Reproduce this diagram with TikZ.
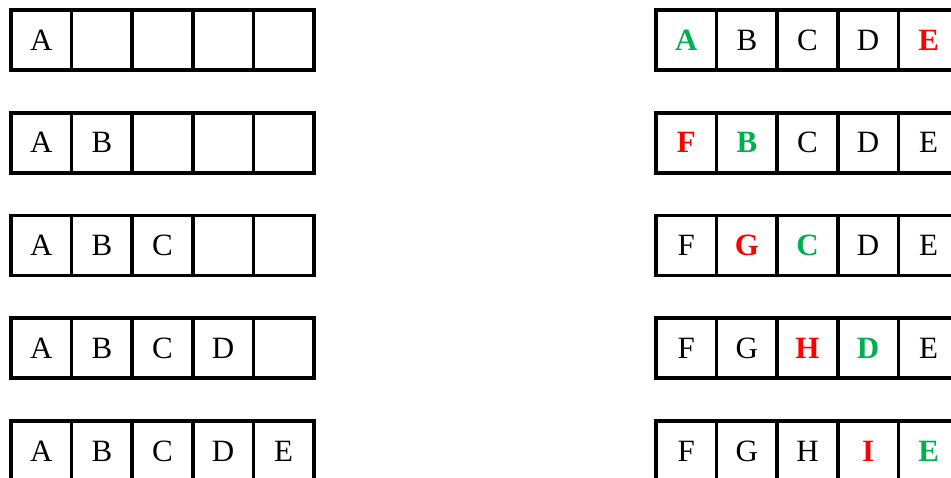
\documentclass[tikz,border=0pt]{standalone}
\usepackage{fontspec}
\setmainfont{Liberation Serif}
\usepackage{xcolor}
\usepackage{tikz}
\usetikzlibrary{positioning}
\definecolor{keepgreen}{RGB}{0, 176, 80}
\definecolor{evictred}{RGB}{255, 0, 0}

\begin{document}
\begin{tikzpicture}[
    node distance=42.75pt and 0pt,
    cell/.style={rectangle, draw=black, line width=3.6pt, outer sep=0pt, inner sep=0pt, minimum width=60.6pt, minimum height=60pt, font=\fontsize{31}{36}\selectfont},
    keep/.style={cell, text=keepgreen, font=\fontsize{31}{36}\selectfont\bfseries},
    evict/.style={cell, text=evictred, font=\fontsize{31}{36}\selectfont\bfseries}
]
\useasboundingbox (0pt,0pt) rectangle (951pt,-478pt);

% filling the empty buffer
\node [cell] (fill1a) at (41.3pt,-40pt) {A};
\node [cell, right=of fill1a] (fill1b) {};
\node [cell, right=of fill1b] (fill1c) {};
\node [cell, right=of fill1c] (fill1d) {};
\node [cell, right=of fill1d] (fill1e) {};

\node [cell, below=of fill1a] (fill2a) {A};
\node [cell, right=of fill2a] (fill2b) {B};
\node [cell, right=of fill2b] (fill2c) {};
\node [cell, right=of fill2c] (fill2d) {};
\node [cell, right=of fill2d] (fill2e) {};

\node [cell, below=of fill2a] (fill3a) {A};
\node [cell, right=of fill3a] (fill3b) {B};
\node [cell, right=of fill3b] (fill3c) {C};
\node [cell, right=of fill3c] (fill3d) {};
\node [cell, right=of fill3d] (fill3e) {};

\node [cell, below=of fill3a] (fill4a) {A};
\node [cell, right=of fill4a] (fill4b) {B};
\node [cell, right=of fill4b] (fill4c) {C};
\node [cell, right=of fill4c] (fill4d) {D};
\node [cell, right=of fill4d] (fill4e) {};

\node [cell, below=of fill4a] (fill5a) {A};
\node [cell, right=of fill5a] (fill5b) {B};
\node [cell, right=of fill5b] (fill5c) {C};
\node [cell, right=of fill5c] (fill5d) {D};
\node [cell, right=of fill5d] (fill5e) {E};

% overwriting the oldest entry
\node [keep, right=342pt of fill1e] (wrap1a) {A};
\node [cell, right=of wrap1a] (wrap1b) {B};
\node [cell, right=of wrap1b] (wrap1c) {C};
\node [cell, right=of wrap1c] (wrap1d) {D};
\node [evict, right=of wrap1d] (wrap1e) {E};

\node [evict, below=of wrap1a] (wrap2a) {F};
\node [keep, right=of wrap2a] (wrap2b) {B};
\node [cell, right=of wrap2b] (wrap2c) {C};
\node [cell, right=of wrap2c] (wrap2d) {D};
\node [cell, right=of wrap2d] (wrap2e) {E};

\node [cell, below=of wrap2a] (wrap3a) {F};
\node [evict, right=of wrap3a] (wrap3b) {G};
\node [keep, right=of wrap3b] (wrap3c) {C};
\node [cell, right=of wrap3c] (wrap3d) {D};
\node [cell, right=of wrap3d] (wrap3e) {E};

\node [cell, below=of wrap3a] (wrap4a) {F};
\node [cell, right=of wrap4a] (wrap4b) {G};
\node [evict, right=of wrap4b] (wrap4c) {H};
\node [keep, right=of wrap4c] (wrap4d) {D};
\node [cell, right=of wrap4d] (wrap4e) {E};

\node [cell, below=of wrap4a] (wrap5a) {F};
\node [cell, right=of wrap5a] (wrap5b) {G};
\node [cell, right=of wrap5b] (wrap5c) {H};
\node [evict, right=of wrap5c] (wrap5d) {I};
\node [keep, right=of wrap5d] (wrap5e) {E};

\end{tikzpicture}
\end{document}
